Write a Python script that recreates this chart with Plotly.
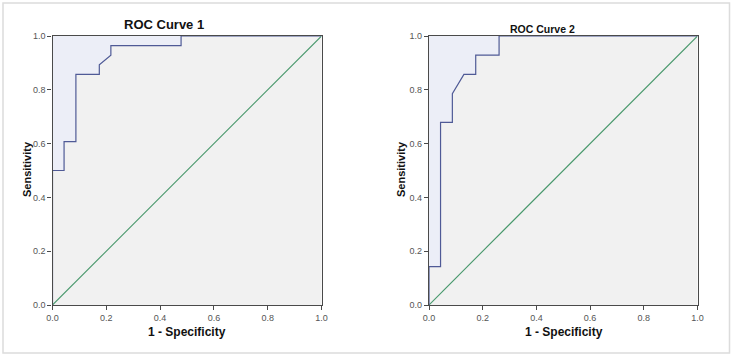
import plotly.graph_objects as go

# ROC curve 1 (1 - specificity, sensitivity)
fpr1 = [0.0, 0.0, 0.043, 0.043, 0.087, 0.087, 0.174, 0.174, 0.217, 0.217, 0.478, 0.478, 1.0]
tpr1 = [0.0, 0.5, 0.5, 0.607, 0.607, 0.857, 0.857, 0.893, 0.929, 0.964, 0.964, 1.0, 1.0]
# ROC curve 2
fpr2 = [0.0, 0.0, 0.043, 0.043, 0.087, 0.087, 0.130, 0.174, 0.174, 0.261, 0.261, 1.0]
tpr2 = [0.0, 0.143, 0.143, 0.679, 0.679, 0.786, 0.857, 0.857, 0.929, 0.929, 1.0, 1.0]
ref_line = [0.0, 1.0]
tick_vals = [0.0, 0.2, 0.4, 0.6, 0.8, 1.0]
titles = ["ROC Curve 1", "ROC Curve 2"]
x_title = "1 - Specificity"
y_title = "Sensitivity"

W, H = 733, 357
FONT = "Liberation Sans, Arial, sans-serif"
CURVE = "#4f5a96"
FILL = "#eceef7"
DIAG = "#46976a"
AX = "#4a4a4a"

fig = go.Figure()
curves = [(fpr1, tpr1), (fpr2, tpr2)]
for i, (fx, ty) in enumerate(curves):
    xa = "x" if i == 0 else "x2"
    ya = "y" if i == 0 else "y2"
    # shaded region above the curve
    fig.add_trace(go.Scatter(x=fx + [0.0], y=ty + [1.0], fill="toself", fillcolor=FILL,
                             line=dict(width=0, color=FILL), mode="lines", xaxis=xa, yaxis=ya,
                             hoverinfo="skip", showlegend=False))
    fig.add_trace(go.Scatter(x=ref_line, y=ref_line, mode="lines",
                             line=dict(color=DIAG, width=1.1), xaxis=xa, yaxis=ya,
                             showlegend=False))
    fig.add_trace(go.Scatter(x=fx, y=ty, mode="lines",
                             line=dict(color=CURVE, width=1.2), xaxis=xa, yaxis=ya,
                             showlegend=False))

def px_x(p):
    return p / W

def px_y(p):
    return 1 - p / H

ydom = [px_y(305), px_y(36)]
axis_common = dict(range=[0, 1], tickvals=tick_vals, tickformat=".1f", ticks="outside",
                   ticklen=4, tickcolor=AX, tickwidth=1, showline=True, linecolor=AX,
                   linewidth=1.3, mirror=True, showgrid=False, zeroline=False,
                   automargin=False,
                   tickfont=dict(family=FONT, size=9, color="#555555"), fixedrange=True)

fig.update_layout(
    width=W, height=H, margin=dict(l=0, r=0, t=0, b=0, autoexpand=False),
    paper_bgcolor="white", plot_bgcolor="#f1f1f1",
    xaxis=dict(domain=[px_x(52.5), px_x(321.5)], anchor="y", **axis_common),
    yaxis=dict(domain=ydom, anchor="x", **axis_common),
    xaxis2=dict(domain=[px_x(429), px_x(697.5)], anchor="y2", **axis_common),
    yaxis2=dict(domain=ydom, anchor="x2", **axis_common),
    showlegend=False,
)

annots = [
    dict(text="<b>" + titles[0] + "</b>", x=px_x(164), y=px_y(25), size=13),
    dict(text="<b>" + titles[1] + "</b>", x=px_x(542), y=px_y(29), size=10.5),
    dict(text="<b>" + x_title + "</b>", x=px_x(187), y=px_y(332), size=12),
    dict(text="<b>" + x_title + "</b>", x=px_x(564), y=px_y(332), size=12),
]
for a in annots:
    fig.add_annotation(text=a["text"], x=a["x"], y=a["y"], xref="paper", yref="paper",
                       showarrow=False, xanchor="center", yanchor="middle",
                       font=dict(family=FONT, size=a["size"], color="#111111"))
for xc in [27, 401]:
    fig.add_annotation(text="<b>" + y_title + "</b>", x=px_x(xc), y=px_y(169),
                       xref="paper", yref="paper", showarrow=False, textangle=-90,
                       xanchor="center", yanchor="middle",
                       font=dict(family=FONT, size=11, color="#111111"))

# outer light frame
fig.add_shape(type="rect", xref="paper", yref="paper", x0=px_x(3), x1=px_x(729.5),
              y0=px_y(353), y1=px_y(3), line=dict(color="#dcdcdc", width=1.5),
              fillcolor="rgba(0,0,0,0)", layer="below")

fig.write_html("out.html")
